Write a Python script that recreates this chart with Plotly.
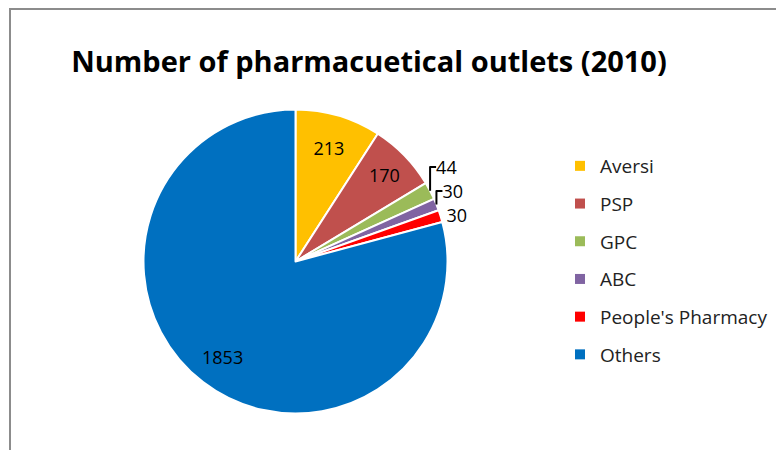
import math
import plotly.graph_objects as go

labels = ["Aversi", "PSP", "GPC", "ABC", "People's Pharmacy", "Others"]
values = [213, 170, 44, 30, 30, 1853]
colors = ["#FFC000", "#C0504D", "#9BBB59", "#8064A2", "#FF0000", "#0070C0"]
text_positions = ["inside", "inside", "outside", "outside", "outside", "none"]
title_text = "Number of pharmacuetical outlets (2010)"

W, H = 784, 450
cx, cy, r = 287.5, 253.5, 152
FONT = "Open Sans"

fig = go.Figure()
fig.add_trace(go.Pie(
    labels=labels,
    values=values,
    sort=False,
    direction="clockwise",
    rotation=0,
    marker=dict(colors=colors, line=dict(color="white", width=2)),
    textinfo="value",
    textposition=text_positions,
    insidetextorientation="horizontal",
    textfont=dict(family=FONT, size=18, color="black"),
    insidetextfont=dict(family=FONT, size=18, color="black"),
    outsidetextfont=dict(family=FONT, size=18, color="black"),
    domain=dict(x=[(cx - r) / W, (cx + r) / W], y=[(H - cy - r) / H, (H - cy + r) / H]),
    hoverinfo="label+value",
    showlegend=False,
))

# label of the largest slice, placed along its mid-angle (as in the original)
total = sum(values)
start = sum(values[:-1])
mid_angle = 2 * math.pi * (start + values[-1] / 2) / total
lab_r = 0.79 * r
ann_x = (cx + lab_r * math.sin(mid_angle)) / W
ann_y = (H - cy + lab_r * math.cos(mid_angle)) / H

# legend entries (one group each so the gap between them can be set)
for lab, col in zip(labels, colors):
    fig.add_trace(go.Scatter(
        x=[None], y=[None], mode="markers", name=lab, legendgroup=lab,
        marker=dict(symbol="square", size=10, color=col),
        showlegend=True, hoverinfo="skip",
    ))

fig.update_layout(
    width=W, height=H,
    margin=dict(l=0, r=0, t=0, b=0),
    paper_bgcolor="white",
    plot_bgcolor="white",
    xaxis=dict(visible=False),
    yaxis=dict(visible=False),
    font=dict(family=FONT, size=18, color="black"),
    title=dict(text="<b>" + title_text + "</b>",
               x=361 / W, xanchor="center", y=1 - 54 / H, yanchor="middle",
               font=dict(family=FONT, size=29, color="black")),
    legend=dict(x=552 / W, y=1 - 139 / H, xanchor="left", yanchor="top",
                font=dict(family=FONT, size=19, color="#222"),
                tracegroupgap=10, itemwidth=30, bgcolor="rgba(0,0,0,0)"),
    annotations=[dict(text=str(values[-1]), x=ann_x, y=ann_y, xref="paper", yref="paper",
                      showarrow=False, xanchor="center", yanchor="middle",
                      font=dict(family=FONT, size=18, color="black"))],
    shapes=[dict(type="rect", xref="paper", yref="paper",
                 x0=2 / W, x1=1.05, y0=-0.05, y1=1 - 1 / H,
                 line=dict(color="#8c8c8c", width=2), layer="below")],
)

fig.write_html("out.html")
